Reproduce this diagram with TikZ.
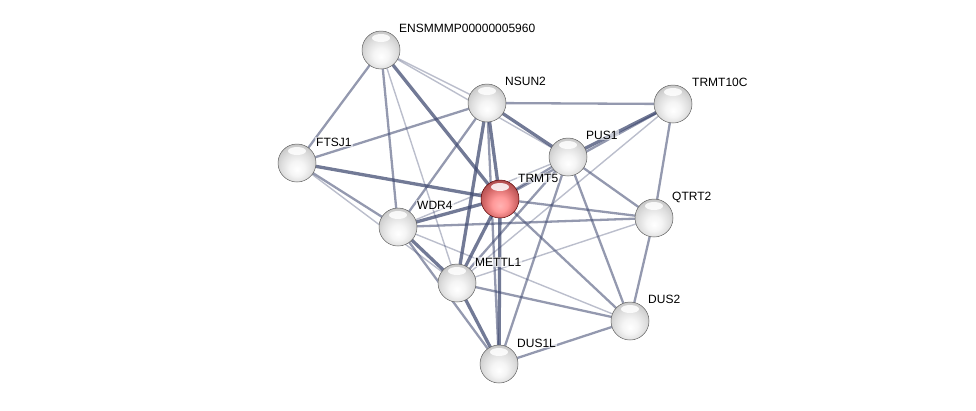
\documentclass[tikz,border=0pt]{standalone}
\usepackage{fontspec}
\setmainfont{Liberation Sans}
\usetikzlibrary{calc}
\definecolor{edgec}{RGB}{60,70,110}
\pgfdeclareradialshading{greyball}{\pgfpoint{0bp}{-9bp}}{color(0bp)=(white); color(10bp)=(gray!8); color(20bp)=(gray!25); color(28bp)=(gray!42); color(34bp)=(gray!52); color(50bp)=(gray!55)}
\pgfdeclareradialshading{redball}{\pgfpoint{0bp}{-9bp}}{color(0bp)=(red!30!white); color(10bp)=(red!40!white); color(20bp)=(red!50!white!85!black); color(28bp)=(red!55!white!70!black); color(34bp)=(red!50!white!60!black); color(50bp)=(red!50!black)}
\begin{document}
\begin{tikzpicture}[x=1pt,y=-1pt,
  eA/.style={draw=edgec,line width=1.4pt,opacity=0.35},
  eB/.style={draw=edgec,line width=2.3pt,opacity=0.55},
  eC/.style={draw=edgec,line width=3.3pt,opacity=0.72},
  hilite/.style={path picture={\fill[white,opacity=0.85] ([yshift=-7pt]path picture bounding box.north) ellipse [x radius=9pt, y radius=4pt];}},
  prot/.style={circle,minimum size=38pt,inner sep=0pt,shading=greyball,draw=gray!75!black,line width=0.5pt,hilite},
  seed/.style={prot,shading=redball,draw=red!35!black},
  lab/.style={anchor=west,font=\fontsize{12}{14}\selectfont,inner sep=1pt,fill=white,fill opacity=0.6,text opacity=1}]
\useasboundingbox (0,0) rectangle (976,410);
% node coordinates
\coordinate (ENSM) at (381,50);
\coordinate (NSUN2) at (487,103);
\coordinate (TRMT10C) at (673,104);
\coordinate (FTSJ1) at (297,163);
\coordinate (PUS1) at (568,157);
\coordinate (TRMT5) at (500,199);
\coordinate (QTRT2) at (654,218);
\coordinate (WDR4) at (398,227);
\coordinate (METTL1) at (457,283);
\coordinate (DUS2) at (630,321);
\coordinate (DUS1L) at (499,364);
% edges
\draw[eB] (ENSM) -- (FTSJ1);
\draw[eB] (ENSM) -- (WDR4);
\draw[eA] (ENSM) -- (METTL1);
\draw[eC] (ENSM) -- (TRMT5);
\draw[eA] (ENSM) -- (NSUN2);
\draw[eA] (ENSM) -- (PUS1);
\draw[eB] (FTSJ1) -- (NSUN2);
\draw[eC] (FTSJ1) -- (TRMT5);
\draw[eB] (FTSJ1) -- (WDR4);
\draw[eA] (FTSJ1) -- (METTL1);
\draw[eB] (NSUN2) -- (TRMT10C);
\draw[eC] (NSUN2) -- (PUS1);
\draw[eC] (NSUN2) -- (TRMT5);
\draw[eB] (NSUN2) -- (WDR4);
\draw[eC] (NSUN2) -- (METTL1);
\draw[eB] (NSUN2) -- (DUS1L);
\draw[eC] (PUS1) -- (TRMT10C);
\draw[eB] (TRMT5) -- (TRMT10C);
\draw[eB] (PUS1) -- (TRMT5);
\draw[eA] (PUS1) -- (WDR4);
\draw[eB] (PUS1) -- (METTL1);
\draw[eB] (PUS1) -- (DUS1L);
\draw[eB] (PUS1) -- (QTRT2);
\draw[eB] (PUS1) -- (DUS2);
\draw[eB] (TRMT10C) -- (QTRT2);
\draw[eA] (TRMT10C) -- (METTL1);
\draw[eB] (TRMT5) -- (QTRT2);
\draw[eC] (TRMT5) -- (WDR4);
\draw[eC] (TRMT5) -- (METTL1);
\draw[eC] (TRMT5) -- (DUS1L);
\draw[eB] (TRMT5) -- (DUS2);
\draw[eB] (WDR4) -- (QTRT2);
\draw[eA] (METTL1) -- (QTRT2);
\draw[eB] (QTRT2) -- (DUS2);
\draw[eC] (WDR4) -- (METTL1);
\draw[eB] (WDR4) -- (DUS1L);
\draw[eA] (WDR4) -- (DUS2);
\draw[eC] (METTL1) -- (DUS1L);
\draw[eB] (METTL1) -- (DUS2);
\draw[eB] (DUS1L) -- (DUS2);
% nodes
\node[prot] (nENSM) at (ENSM) {};
\node[prot] (nNSUN2) at (NSUN2) {};
\node[prot] (nTRMT10C) at (TRMT10C) {};
\node[prot] (nFTSJ1) at (FTSJ1) {};
\node[prot] (nPUS1) at (PUS1) {};
\node[seed] (nTRMT5) at (TRMT5) {};
\node[prot] (nQTRT2) at (QTRT2) {};
\node[prot] (nWDR4) at (WDR4) {};
\node[prot] (nMETTL1) at (METTL1) {};
\node[prot] (nDUS2) at (DUS2) {};
\node[prot] (nDUS1L) at (DUS1L) {};
% labels
\node[lab] (lENSM) at ($(ENSM)+(17,-22)$) {ENSMMMP00000005960};
\node[lab] (lNSUN2) at ($(NSUN2)+(17,-22)$) {NSUN2};
\node[lab] (lTRMT10C) at ($(TRMT10C)+(18,-22)$) {TRMT10C};
\node[lab] (lFTSJ1) at ($(FTSJ1)+(18,-21)$) {FTSJ1};
\node[lab] (lPUS1) at ($(PUS1)+(17,-22)$) {PUS1};
\node[lab] (lTRMT5) at ($(TRMT5)+(17,-21)$) {TRMT5};
\node[lab] (lQTRT2) at ($(QTRT2)+(17,-21)$) {QTRT2};
\node[lab] (lWDR4) at ($(WDR4)+(18,-22)$) {WDR4};
\node[lab] (lMETTL1) at ($(METTL1)+(17,-21)$) {METTL1};
\node[lab] (lDUS2) at ($(DUS2)+(17,-22)$) {DUS2};
\node[lab] (lDUS1L) at ($(DUS1L)+(17,-21)$) {DUS1L};
\end{tikzpicture}
\end{document}
